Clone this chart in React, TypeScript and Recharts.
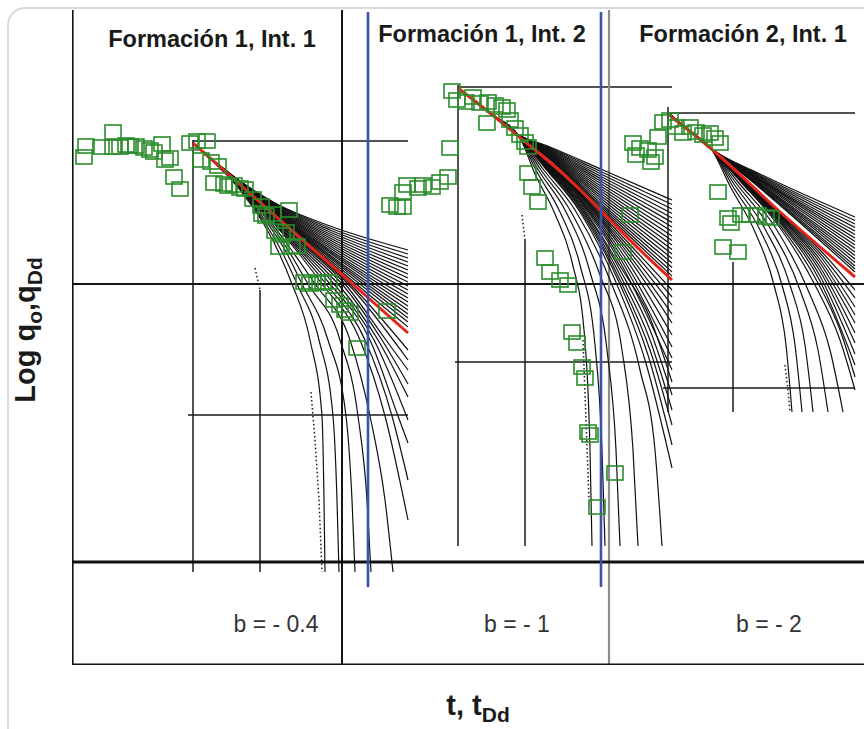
import React from 'react';
import { ComposedChart, Line, Scatter, XAxis, YAxis } from 'recharts';

type Pt = [number, number];

// sheet units: x to the right, y downward (axis reversed)
const X_DOMAIN: [number, number] = [72, 864];
const Y_DOMAIN: [number, number] = [10, 665];

const panelTitles = ['Formación 1, Int. 1', 'Formación 1, Int. 2', 'Formación 2, Int. 1'];
const bLabels = ['b = - 0.4', 'b = - 1', 'b = - 2'];

// outer frame
const frameHeavy: Pt[][] = [
  [[72, 10], [72, 665]],
  [[72, 665], [864, 665]],
  [[72, 562], [864, 562]],
];
const frameLight: Pt[][] = [
  [[72, 284], [864, 284]],
  [[342, 10], [342, 665]],
];
const frameGray: Pt[][] = [[[609, 10], [609, 665]]];

// grid of each overlaid type curve
const typeGrid: Pt[][] = [
  [[193, 140], [193, 572]],
  [[260, 290], [260, 572]],
  [[193, 141], [408, 141]],
  [[188, 415], [408, 415]],
  [[458, 85], [458, 546]],
  [[525, 240], [525, 546]],
  [[458, 87], [672, 87]],
  [[455, 362], [672, 362]],
  [[668, 107], [668, 412]],
  [[733, 262], [733, 412]],
  [[668, 113], [855, 113]],
  [[663, 388], [855, 388]],
];
const typeGridDotted: Pt[][] = [
  [[255, 268], [260, 290]],
  [[522, 215], [525, 240]],
  [[311, 392], [315, 440], [319, 500], [322, 572]],
  [[583, 340], [586, 420], [589, 500]],
  [[785, 365], [788, 390], [790, 412]],
];

// Formación 1, Int. 1
const p1Upper: Pt[][] = [
  [[193, 143], [240, 181], [275, 203], [330, 226], [408, 250]],
  [[193, 143], [240, 181.2], [275, 203.5], [330, 228], [408, 254]],
  [[193, 143], [240, 181.5], [275, 204], [330, 230], [408, 258]],
  [[193, 143], [240, 181.8], [275, 204.8], [330, 232], [408, 262]],
  [[193, 143], [240, 182], [275, 205.5], [330, 234], [408, 266]],
  [[193, 143], [240, 182.2], [275, 206], [330, 236], [408, 270]],
  [[193, 143], [240, 182.5], [275, 206.5], [330, 238], [408, 274]],
  [[193, 143], [240, 182.8], [275, 207.2], [330, 240], [408, 278]],
  [[193, 143], [240, 183], [275, 208], [330, 242], [408, 282]],
  [[193, 143], [240, 183], [275, 208.5], [330, 244], [408, 286]],
  [[193, 143], [240, 183], [275, 209], [330, 246], [408, 290]],
  [[193, 143], [240, 183.2], [275, 209.8], [330, 248], [408, 294]],
  [[193, 143], [240, 183.5], [275, 210.5], [330, 250], [408, 298]],
  [[193, 143], [240, 183.5], [275, 211.2], [330, 251.5], [408, 302]],
  [[193, 143], [240, 183.5], [275, 212], [330, 253], [408, 306]],
  [[193, 143], [240, 183.8], [275, 212.5], [330, 255], [408, 310]],
  [[193, 143], [240, 184], [275, 213], [330, 256.5], [408, 314]],
  [[193, 143], [240, 184], [275, 213.5], [330, 258], [408, 318]],
  [[193, 143], [240, 184], [275, 214], [330, 260], [408, 322]],
  [[193, 143], [240, 184.2], [275, 214.5], [330, 262], [408, 327]],
];
const p1Lower: Pt[][] = [
  [[193, 143], [240, 185], [265, 207], [300, 239], [350, 284], [408, 350]],
  [[193, 143], [240, 185.2], [265, 207.5], [300, 240.5], [348, 284], [408, 360]],
  [[193, 143], [240, 185.5], [265, 208], [300, 242], [345, 284], [386, 340], [408, 370]],
  [[193, 143], [240, 185.8], [265, 208.8], [300, 244], [342, 284], [382, 340], [408, 384]],
  [[193, 143], [240, 186], [265, 209.5], [300, 246], [338, 284], [378, 340], [408, 397]],
  [[193, 143], [240, 186.2], [265, 210.2], [300, 248], [334, 284], [374, 340], [408, 420]],
  [[193, 143], [240, 186.5], [265, 211], [300, 250], [330, 284], [370, 340], [398, 416], [408, 443]],
  [[193, 143], [240, 186.8], [265, 212], [300, 252.5], [326, 284], [365, 340], [392, 416], [408, 480]],
  [[193, 143], [240, 187], [265, 213], [300, 255], [322, 284], [360, 340], [385, 416], [408, 520]],
  [[193, 143], [240, 187.5], [265, 215], [290, 248], [315, 284], [350, 340], [370, 416], [385, 500], [393, 572]],
  [[193, 143], [240, 188], [265, 217], [288, 250], [308, 284], [340, 340], [358, 416], [367, 500], [371, 572]],
  [[193, 143], [240, 188.5], [265, 220], [285, 250], [302, 284], [328, 340], [346, 416], [352, 500], [355, 572]],
  [[193, 143], [240, 189], [265, 223], [282, 252], [297, 284], [319, 340], [333, 416], [337, 500], [339, 572]],
  [[193, 143], [240, 190], [265, 226], [279, 253], [292, 284], [310, 340], [322, 416], [324, 500], [325, 572]],
];
const p1Red: Pt[] = [[193, 143], [408, 333]];
const p1Data: Pt[] = [
  [84, 157], [86, 146], [101, 147], [113, 132], [113, 147], [120, 147], [126, 145], [130, 146],
  [136, 146], [144, 148], [150, 150], [154, 152], [162, 144], [165, 160], [170, 158], [174, 177],
  [180, 189], [190, 143], [197, 141], [207, 141], [201, 160], [211, 162], [218, 166], [214, 183],
  [224, 184], [228, 186], [234, 185], [240, 188], [245, 189], [253, 199], [261, 206], [262, 214],
  [266, 216], [273, 214], [289, 210], [275, 231], [282, 235], [286, 232], [279, 247], [292, 247],
  [297, 246], [304, 282], [310, 284], [317, 282], [323, 283], [329, 282], [334, 300], [340, 305],
  [345, 310], [350, 313], [387, 311], [357, 348],
];

// Formación 1, Int. 2
const p2Upper: Pt[][] = [
  [[458, 88], [490, 113], [515, 133], [550, 147], [603, 170], [672, 200]],
  [[458, 88], [490, 113], [515, 133], [550, 147.8], [603, 172.5], [672, 204.5]],
  [[458, 88], [490, 113], [515, 133], [550, 148.5], [603, 175], [672, 209]],
  [[458, 88], [490, 113], [515, 133], [550, 149.2], [603, 177.5], [672, 213.5]],
  [[458, 88], [490, 113], [515, 133], [550, 150], [603, 180], [672, 218]],
  [[458, 88], [490, 113], [515, 133], [550, 150.8], [603, 182.5], [672, 222.5]],
  [[458, 88], [490, 113], [515, 133], [550, 151.5], [603, 185], [672, 227]],
  [[458, 88], [490, 113], [515, 133], [550, 152.2], [603, 187.5], [672, 231.5]],
  [[458, 88], [490, 113], [515, 133], [550, 153], [603, 190], [672, 236]],
  [[458, 88], [490, 113], [515, 133], [550, 153.8], [603, 192.5], [672, 240.5]],
  [[458, 88], [490, 113], [515, 133], [550, 154.5], [603, 195], [672, 245]],
  [[458, 88], [490, 113], [515, 133], [550, 155.2], [603, 197.5], [672, 249.5]],
  [[458, 88], [490, 113], [515, 133], [550, 156], [603, 200], [672, 254]],
  [[458, 88], [490, 113], [515, 133], [550, 156.8], [603, 202.5], [672, 258.5]],
  [[458, 88], [490, 113], [515, 133], [550, 157.5], [603, 205], [672, 263]],
  [[458, 88], [490, 113], [515, 133], [550, 158.2], [603, 207], [672, 267.5]],
  [[458, 88], [490, 113], [515, 133], [550, 159], [603, 209], [672, 272]],
  [[458, 88], [490, 113], [515, 133], [550, 159.5], [603, 211], [672, 276]],
];
const p2Lower: Pt[][] = [
  [[458, 88], [490, 113], [520, 138], [545, 160], [580, 192], [620, 234], [672, 290]],
  [[458, 88], [490, 113], [520, 138], [545, 160.5], [580, 193], [620, 237], [672, 297]],
  [[458, 88], [490, 113], [520, 138], [545, 161], [580, 194], [620, 240], [672, 305]],
  [[458, 88], [490, 113], [520, 138], [545, 161.5], [580, 195], [620, 243], [672, 314]],
  [[458, 88], [490, 113], [520, 138], [545, 162], [580, 196], [620, 246], [672, 323]],
  [[458, 88], [490, 113], [520, 138], [545, 162.5], [580, 197.5], [620, 250], [672, 335]],
  [[458, 88], [490, 113], [520, 138], [545, 163], [580, 199], [620, 254], [672, 347]],
  [[458, 88], [490, 113], [520, 138], [545, 163.5], [580, 200.5], [620, 258], [672, 358]],
  [[458, 88], [490, 113], [520, 138], [545, 164], [580, 202], [620, 262], [672, 370]],
  [[458, 88], [490, 113], [520, 138], [545, 164.5], [580, 203.5], [620, 266], [650, 318], [672, 382]],
  [[458, 88], [490, 113], [520, 138], [545, 165], [580, 205], [620, 270], [650, 330], [672, 395]],
  [[458, 88], [490, 113], [520, 138], [545, 165.5], [580, 206.5], [620, 275], [650, 340], [672, 410]],
  [[458, 88], [490, 113], [520, 138], [545, 166], [580, 208], [620, 280], [650, 350], [672, 425]],
  [[458, 88], [490, 113], [520, 138], [545, 167], [580, 210], [618, 280], [648, 355], [672, 445]],
  [[458, 88], [490, 113], [520, 138], [545, 168], [580, 212], [615, 280], [645, 360], [672, 468]],
  [[458, 88], [490, 113], [520, 138], [543, 169], [575, 210], [610, 280], [640, 370], [655, 450], [662, 546]],
  [[458, 88], [490, 113], [520, 138], [541, 170], [570, 210], [600, 275], [622, 350], [633, 450], [638, 546]],
  [[458, 88], [490, 113], [520, 138], [539, 171], [565, 210], [590, 272], [607, 350], [616, 450], [620, 546]],
  [[458, 88], [490, 113], [520, 138], [537, 172], [560, 212], [580, 265], [595, 345], [602, 450], [605, 546]],
  [[458, 88], [490, 113], [520, 138], [535, 174], [555, 214], [572, 262], [584, 330], [590, 450], [592, 546]],
];
const p2Red: Pt[] = [[458, 88], [490, 113], [523, 140], [570, 180], [607, 217], [640, 250], [672, 280]];
const p2Data: Pt[] = [
  [452, 91], [457, 100], [466, 102], [473, 97], [480, 103], [488, 102], [495, 105], [502, 107],
  [507, 110], [487, 123], [510, 120], [515, 128], [520, 135], [525, 142], [528, 147], [450, 148],
  [448, 177], [440, 182], [432, 187], [423, 185], [418, 188], [407, 185], [403, 192], [390, 205],
  [397, 207], [403, 207], [528, 173], [532, 187], [538, 202], [545, 258], [550, 272], [560, 280],
  [568, 285], [572, 332], [577, 343], [582, 367], [585, 378], [588, 432], [590, 435], [597, 507],
  [615, 473],
];

// Formación 2, Int. 1
const p3Upper: Pt[][] = [
  [[668, 113], [690, 131], [713, 150], [758, 173], [855, 217]],
  [[668, 113], [690, 131], [713, 150], [758, 174], [855, 220.5]],
  [[668, 113], [690, 131], [713, 150], [758, 175], [855, 224]],
  [[668, 113], [690, 131], [713, 150], [758, 176], [855, 227.5]],
  [[668, 113], [690, 131], [713, 150], [758, 177], [855, 231]],
  [[668, 113], [690, 131], [713, 150], [758, 177.8], [855, 234.5]],
  [[668, 113], [690, 131], [713, 150], [758, 178.5], [855, 238]],
  [[668, 113], [690, 131], [713, 150], [758, 179.2], [855, 241.5]],
  [[668, 113], [690, 131], [713, 150], [758, 180], [855, 245]],
  [[668, 113], [690, 131], [713, 150], [758, 181], [855, 248.5]],
  [[668, 113], [690, 131], [713, 150], [758, 182], [855, 252]],
  [[668, 113], [690, 131], [713, 150], [758, 182.8], [855, 255.5]],
  [[668, 113], [690, 131], [713, 150], [758, 183.5], [855, 259]],
  [[668, 113], [690, 131], [713, 150], [758, 184.2], [855, 262.5]],
  [[668, 113], [690, 131], [713, 150], [758, 185], [855, 266]],
  [[668, 113], [690, 131], [713, 150], [758, 185.8], [855, 269]],
  [[668, 113], [690, 131], [713, 150], [758, 186.5], [855, 272]],
];
const p3Lower: Pt[][] = [
  [[668, 113], [690, 131], [712, 150], [740, 176], [780, 213], [820, 250], [855, 290]],
  [[668, 113], [690, 131], [712, 150], [740, 176.5], [780, 214], [820, 253], [855, 298]],
  [[668, 113], [690, 131], [712, 150], [740, 177], [780, 215], [820, 256], [855, 307]],
  [[668, 113], [690, 131], [712, 150], [740, 177.5], [780, 216], [820, 259.5], [855, 315]],
  [[668, 113], [690, 131], [712, 150], [740, 178], [780, 217], [820, 263], [855, 323]],
  [[668, 113], [690, 131], [712, 150], [740, 178.5], [780, 218.5], [820, 267], [855, 333]],
  [[668, 113], [690, 131], [712, 150], [740, 179], [780, 220], [820, 271], [855, 343]],
  [[668, 113], [690, 131], [712, 150], [740, 179.5], [780, 221.5], [820, 276], [855, 354]],
  [[668, 113], [690, 131], [712, 150], [740, 180], [780, 223], [820, 281], [855, 365]],
  [[668, 113], [690, 131], [712, 150], [740, 180.5], [779, 224], [818, 283], [840, 330], [855, 377]],
  [[668, 113], [690, 131], [712, 150], [740, 181], [778, 225], [815, 285], [840, 340], [855, 390]],
  [[668, 113], [690, 131], [712, 150], [738, 182], [775, 227], [808, 290], [830, 350], [843, 412]],
  [[668, 113], [690, 131], [712, 150], [736, 183], [770, 228], [800, 290], [818, 350], [828, 412]],
  [[668, 113], [690, 131], [712, 150], [734, 184], [765, 229], [790, 285], [805, 345], [813, 412]],
  [[668, 113], [690, 131], [712, 150], [732, 185], [760, 230], [782, 285], [795, 345], [802, 412]],
  [[668, 113], [690, 131], [712, 150], [730, 186], [755, 232], [774, 285], [786, 345], [792, 412]],
];
const p3Red: Pt[] = [[668, 114], [715, 152], [778, 210], [855, 277]];
const p3Data: Pt[] = [
  [663, 122], [670, 120], [676, 127], [683, 133], [690, 127], [696, 132], [703, 135], [710, 133],
  [715, 138], [720, 143], [658, 137], [633, 143], [640, 148], [648, 150], [655, 157], [636, 155],
  [651, 162], [718, 192], [728, 218], [731, 223], [741, 215], [750, 215], [758, 215], [766, 217],
  [771, 218], [723, 247], [738, 252], [630, 215], [623, 252],
];

const blueMarkers: Pt[][] = [
  [[368, 12], [368, 587]],
  [[601, 12], [601, 587]],
];

const rows = (pts: Pt[]) => pts.map(([x, y]) => ({ x, y }));

const Square = (props: any) => {
  const { cx, cy } = props;
  if (cx == null || cy == null) return <g />;
  return <rect x={cx - 8} y={cy - 7} width={16} height={14} fill="none" stroke="#2b8c2b" strokeWidth={1.6} />;
};

const seg = (pts: Pt[], key: string, stroke: string, width: number, dash?: string, curve = false) => (
  <Line
    key={key}
    data={rows(pts)}
    dataKey="y"
    type={curve ? 'monotone' : 'linear'}
    stroke={stroke}
    strokeWidth={width}
    strokeDasharray={dash}
    dot={false}
    activeDot={false}
    isAnimationActive={false}
    legendType="none"
  />
);

const font = '"Liberation Sans", Arial, Helvetica, sans-serif';

export default function App() {
  const blackCurves = [...p1Upper, ...p1Lower, ...p2Upper, ...p2Lower, ...p3Upper, ...p3Lower];
  return (
    <div style={{ position: 'absolute', left: 0, top: 0, width: 864, height: 729, overflow: 'hidden', background: '#fff' }}>
      <div
        style={{
          position: 'absolute',
          left: 7,
          top: 7,
          width: 900,
          height: 800,
          border: '2px solid #dadada',
          borderRadius: 18,
        }}
      />
      <div style={{ position: 'absolute', left: 0, top: 0 }}>
        <ComposedChart width={864} height={729} margin={{ top: 10, right: 0, bottom: 64, left: 72 }}>
          <XAxis type="number" dataKey="x" domain={X_DOMAIN} allowDataOverflow hide />
          <YAxis type="number" dataKey="y" domain={Y_DOMAIN} allowDataOverflow reversed hide />
          {typeGrid.map((s, i) => seg(s, 'g' + i, '#1a1a1a', 1.5))}
          {typeGridDotted.map((s, i) => seg(s, 'gd' + i, '#1a1a1a', 1.5, '1.5 2.5'))}
          {frameLight.map((s, i) => seg(s, 'fl' + i, '#151515', 2))}
          {frameGray.map((s, i) => seg(s, 'fg' + i, '#8c8c8c', 2.2))}
          {frameHeavy.map((s, i) => seg(s, 'fh' + i, '#111', 3.2))}
          {blackCurves.map((c, i) => seg(c, 'c' + i, '#111', 1.2, undefined, true))}
          {[p1Red, p2Red, p3Red].map((c, i) => seg(c, 'r' + i, '#e3231b', 3, undefined, true))}
          {[p1Data, p2Data, p3Data].map((d, i) => (
            <Scatter key={'s' + i} data={rows(d)} dataKey="y" shape={Square} isAnimationActive={false} legendType="none" />
          ))}
          {blueMarkers.map((s, i) => seg(s, 'b' + i, '#3b52a6', 2.6))}
        </ComposedChart>
      </div>
      <svg width={864} height={729} style={{ position: 'absolute', left: 0, top: 0, pointerEvents: 'none' }}>
        <g fontFamily={font} fontWeight="bold" fontSize={23.5} fill="#1a1a1a" textAnchor="middle">
          <text x={212} y={47}>{panelTitles[0]}</text>
          <text x={482} y={42}>{panelTitles[1]}</text>
          <text x={743} y={42}>{panelTitles[2]}</text>
        </g>
        <g fontFamily={font} fontSize={23} fill="#333" textAnchor="middle">
          <text x={276} y={632}>{bLabels[0]}</text>
          <text x={517} y={632}>{bLabels[1]}</text>
          <text x={769} y={632}>{bLabels[2]}</text>
        </g>
        <text x={478} y={715} fontFamily={font} fontWeight="bold" fontSize={29} fill="#1a1a1a" textAnchor="middle">
          t, t<tspan fontSize={21} dy={7}>Dd</tspan>
        </text>
        <text
          x={0}
          y={0}
          transform="translate(35,330) rotate(-90)"
          fontFamily={font}
          fontWeight="bold"
          fontSize={29}
          fill="#1a1a1a"
          textAnchor="middle"
        >
          Log q<tspan fontSize={21} dy={7}>o</tspan>
          <tspan dy={-7}>,q</tspan>
          <tspan fontSize={21} dy={7}>Dd</tspan>
        </text>
      </svg>
    </div>
  );
}
